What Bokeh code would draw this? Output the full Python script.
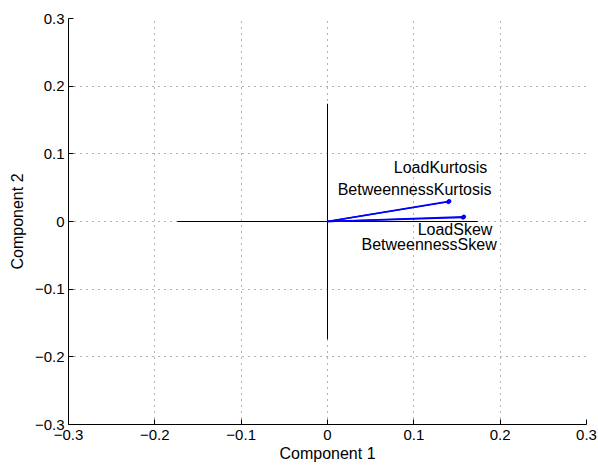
from bokeh.plotting import figure
from bokeh.models import FixedTicker, Range1d
from bokeh.embed import file_html
from bokeh.resources import INLINE
from bokeh.core.properties import value

# Variable names and their loading coefficients (component 1, component 2)
var_names = ["LoadKurtosis", "BetweennessKurtosis", "LoadSkew", "BetweennessSkew"]
comp1 = [0.141, 0.140, 0.158, 0.157]
comp2 = [0.030, 0.029, 0.007, 0.006]

# Label anchor points (right edge of text)
label_x = [0.185, 0.190, 0.191, 0.196]
label_y = [0.080, 0.047, -0.012, -0.034]

# Axis-line half length
axis_half = 0.174

tick_vals = [-0.3, -0.2, -0.1, 0.0, 0.1, 0.2, 0.3]
tick_labels = ["\u22120.3", "\u22120.2", "\u22120.1", "0", "0.1", "0.2", "0.3"]

FONT = "Liberation Sans"

p = figure(width=598, height=466, output_backend="svg", toolbar_location=None,
           x_range=Range1d(-0.3, 0.3), y_range=Range1d(-0.3, 0.3),
           min_border_left=68, min_border_right=12, min_border_top=18, min_border_bottom=42)
p.outline_line_color = None
p.background_fill_color = "white"
p.border_fill_color = "white"

overrides = {v: l for v, l in zip(tick_vals, tick_labels)}
for ax in (p.xaxis, p.yaxis):
    ax.ticker = FixedTicker(ticks=tick_vals)
    ax.major_label_overrides = overrides
    ax.major_tick_in = 5
    ax.major_tick_out = 0
    ax.minor_tick_in = 0
    ax.minor_tick_out = 0
    ax.axis_line_color = "black"
    ax.major_tick_line_color = "black"
    ax.major_label_text_font = FONT
    ax.major_label_text_font_size = "15px"
    ax.major_label_text_color = "black"
    ax.axis_label_text_font = FONT
    ax.axis_label_text_font_size = "16px"
    ax.axis_label_text_font_style = "normal"
    ax.axis_label_text_color = "black"

p.xaxis.axis_label = "Component 1"
p.yaxis.axis_label = "Component 2"
p.xaxis.major_label_standoff = 5
p.xaxis.axis_label_standoff = 2
p.yaxis.major_label_standoff = 4
p.yaxis.axis_label_standoff = 6

for g in (p.xgrid, p.ygrid):
    g.ticker = FixedTicker(ticks=tick_vals)
    g.grid_line_color = "black"
    g.grid_line_dash = "1 5"
    g.grid_line_width = 1
    g.grid_line_alpha = 0.6

# Axis cross lines
p.line([-axis_half, axis_half], [0, 0], line_color="black", line_width=1)
p.line([0, 0], [-axis_half, axis_half], line_color="black", line_width=1)

# Vectors
for cx, cy in zip(comp1, comp2):
    p.line([0, cx], [0, cy], line_color="blue", line_width=1.5)
p.scatter(comp1, comp2, size=3.5, color="blue")

p.text(label_x, label_y, text=var_names, text_align="right", text_baseline="middle",
       text_font=value(FONT), text_font_size="16px", text_color="black")

open("out.html", "w").write(file_html(p, INLINE))
